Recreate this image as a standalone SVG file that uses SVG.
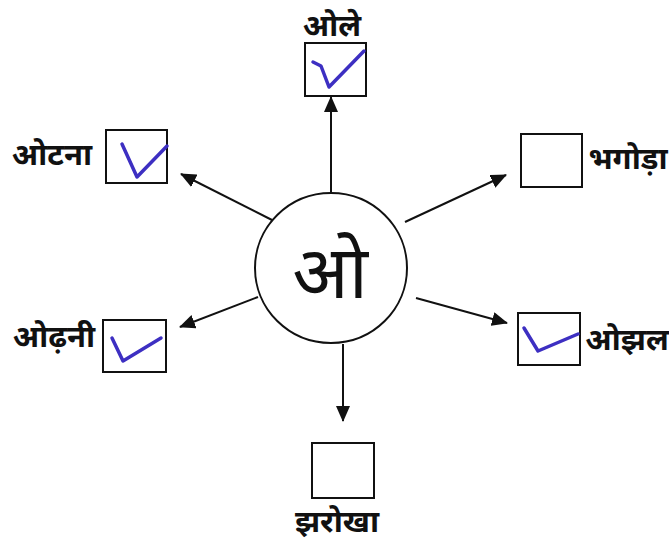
<svg xmlns="http://www.w3.org/2000/svg" width="669" height="545" viewBox="0 0 669 545">
<style>
.box{fill:#fff;stroke:#111;stroke-width:2}
.lbl{font-family:"Noto Sans Devanagari","Noto Sans","Liberation Sans",sans-serif;font-weight:bold;font-size:31px;fill:#111}
.tick{fill:none;stroke:#3d2fc2;stroke-width:3.5;stroke-linecap:round;stroke-linejoin:round}
.edge{stroke:#111;stroke-width:2;fill:none;marker-end:url(#ah)}
</style>
<defs>
<marker id="ah" markerUnits="userSpaceOnUse" markerWidth="16" markerHeight="14" refX="15" refY="7" orient="auto">
<path d="M0,0 L16,7 L0,14 Z" fill="#111"/>
</marker>
</defs>
<rect width="669" height="545" fill="#fff"/>
<g id="connectors">
<line class="edge" x1="331" y1="192" x2="331" y2="97"/>
<line class="edge" x1="272" y1="220" x2="181" y2="174"/>
<line class="edge" x1="405" y1="222" x2="506" y2="175"/>
<line class="edge" x1="258" y1="297" x2="180" y2="327"/>
<line class="edge" x1="416" y1="298" x2="507" y2="323"/>
<line class="edge" x1="343" y1="344" x2="343" y2="421"/>
</g>
<g id="center">
<ellipse cx="331" cy="268" rx="76" ry="75" fill="#fff" stroke="#111" stroke-width="2"/>
<text x="330" y="298" text-anchor="middle" font-family="Noto Sans Devanagari,Noto Sans,Liberation Sans,sans-serif" font-size="74" fill="#111">ओ</text>
</g>
<g id="ole">
<rect class="box" x="305" y="43" width="61" height="53"/>
<path class="tick" d="M313,62 L321,66 L329,87 L364,51"/>
<text class="lbl" x="332" y="36" text-anchor="middle">ओले</text>
</g>
<g id="otna">
<rect class="box" x="106" y="130" width="61" height="53"/>
<path class="tick" d="M122,144 L137,177 L167,146"/>
<text class="lbl" x="52" y="165" text-anchor="middle">ओटना</text>
</g>
<g id="bhagoda">
<rect class="box" x="521" y="134" width="61" height="53"/>
<text class="lbl" x="628" y="169" text-anchor="middle">भगोड़ा</text>
</g>
<g id="odhni">
<rect class="box" x="103" y="320" width="63" height="52"/>
<path class="tick" d="M112,338 L123,361 L161,338"/>
<text class="lbl" x="54" y="347" text-anchor="middle">ओढ़नी</text>
</g>
<g id="ojhal">
<rect class="box" x="518" y="313" width="62" height="52"/>
<path class="tick" d="M524,328 L538,351 L578,334"/>
<text class="lbl" x="627" y="350" text-anchor="middle">ओझल</text>
</g>
<g id="jharokha">
<rect class="box" x="312" y="443" width="62" height="55"/>
<text class="lbl" x="337" y="532" text-anchor="middle">झरोखा</text>
</g>
</svg>
